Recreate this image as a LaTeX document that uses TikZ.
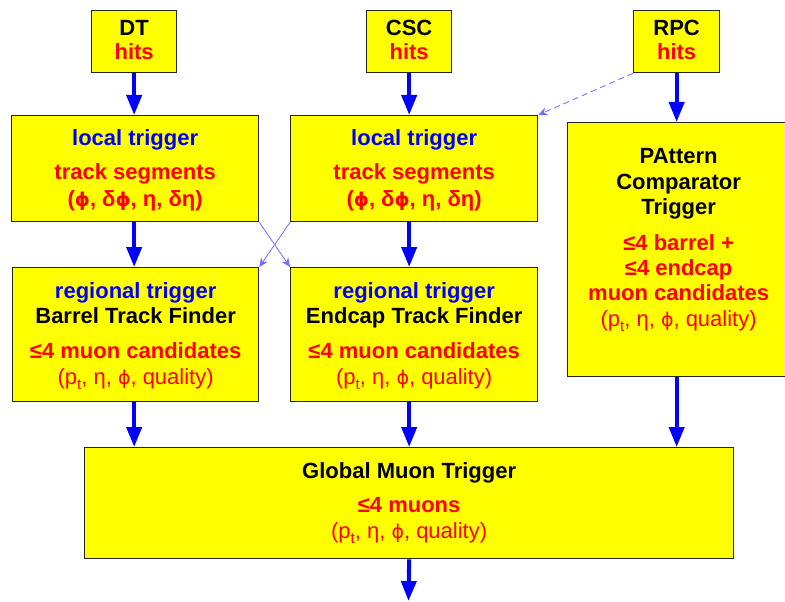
\documentclass[tikz,border=0pt]{standalone}
\usepackage{fontspec}
\setmainfont{Liberation Sans}
\newfontfamily\phifont{DejaVu Sans}
\usetikzlibrary{arrows.meta}
\definecolor{boxyellow}{RGB}{255,255,0}
\definecolor{tblue}{RGB}{0,0,255}
\definecolor{tred}{RGB}{255,0,0}
\definecolor{lblue}{RGB}{110,110,255}
\newcommand{\ptsub}{p\raisebox{-0.25em}{\fontsize{15}{15}\selectfont t}}
\newcommand{\myphi}{{\phifont\fontsize{19}{19}\selectfont ϕ}}
\begin{document}
\begin{tikzpicture}[x=1pt,y=-1pt,
  box/.style={draw=black!85, line width=1.3pt, fill=boxyellow, inner sep=0pt, anchor=north west},
  txt/.style={font=\fontsize{22}{22}\selectfont\bfseries, text height=16pt, text depth=0pt, inner sep=0pt},
  txtr/.style={font=\fontsize{22}{22}\selectfont, text height=16pt, text depth=0pt, inner sep=0pt},
  big/.style={draw=tblue, line width=4pt, -{Triangle[length=20pt,width=15pt]}},
  thinarr/.style={draw=lblue, line width=0.8pt, -{Stealth[length=9pt,width=8pt]}}]
\fill[white] (0,0) rectangle (785,602);
\useasboundingbox (0,0) rectangle (785,602);
% boxes
\node[box, minimum width=85, minimum height=62] (dt) at (91,10) {};
\node[box, minimum width=85, minimum height=62] (csc) at (366,10) {};
\node[box, minimum width=86, minimum height=62] (rpc) at (633,10) {};
\node[box, minimum width=247, minimum height=106] (lt1) at (11,115) {};
\node[box, minimum width=247, minimum height=106] (lt2) at (290,115) {};
\node[box, minimum width=222, minimum height=254] (pact) at (567,122) {};
\node[box, minimum width=246, minimum height=134] (rg1) at (12,267) {};
\node[box, minimum width=247, minimum height=134] (rg2) at (290,267) {};
\node[box, minimum width=649, minimum height=111] (glob) at (84,447) {};
% texts
\node[txt] (dta) at (dt.center |- 0,28) {DT};
\node[txt, text=tred] (dtb) at (dt.center |- 0,52) {hits};
\node[txt] (csca) at (csc.center |- 0,28) {CSC};
\node[txt, text=tred] (cscb) at (csc.center |- 0,52) {hits};
\node[txt] (rpca) at (rpc.center |- 0,28) {RPC};
\node[txt, text=tred] (rpcb) at (rpc.center |- 0,52) {hits};
\node[txt, text=tblue] (lt1a) at (lt1.center |- 0,137) {local trigger};
\node[txt, text=tred] (lt1b) at (lt1.center |- 0,171) {track segments};
\node[txt, text=tred] (lt1c) at (lt1.center |- 0,198) {(\myphi, δ\myphi, η, δη)};
\node[txt, text=tblue] (lt2a) at (lt2.center |- 0,137) {local trigger};
\node[txt, text=tred] (lt2b) at (lt2.center |- 0,171) {track segments};
\node[txt, text=tred] (lt2c) at (lt2.center |- 0,198) {(\myphi, δ\myphi, η, δη)};
\node[txt] (pa) at (pact.center |- 0,155) {PAttern};
\node[txt] (pb) at (pact.center |- 0,181) {Comparator};
\node[txt] (pc) at (pact.center |- 0,206) {Trigger};
\node[txt, text=tred] (pd) at (pact.center |- 0,242) {≤4 barrel +};
\node[txt, text=tred] (pe) at (pact.center |- 0,267) {≤4 endcap};
\node[txt, text=tred] (pf) at (pact.center |- 0,292) {muon candidates};
\node[txtr, text=tred] (pg) at (pact.center |- 0,318) {(\ptsub, η, \myphi, quality)};
\node[txt, text=tblue] (rg1a) at (rg1.center |- 0,290) {regional trigger};
\node[txt] (rg1b) at (rg1.center |- 0,315) {Barrel Track Finder};
\node[txt, text=tred] (rg1c) at (rg1.center |- 0,350) {≤4 muon candidates};
\node[txtr, text=tred] (rg1d) at (rg1.center |- 0,376) {(\ptsub, η, \myphi, quality)};
\node[txt, text=tblue] (rg2a) at (rg2.center |- 0,290) {regional trigger};
\node[txt] (rg2b) at (rg2.center |- 0,315) {Endcap Track Finder};
\node[txt, text=tred] (rg2c) at (rg2.center |- 0,350) {≤4 muon candidates};
\node[txtr, text=tred] (rg2d) at (rg2.center |- 0,376) {(\ptsub, η, \myphi, quality)};
\node[txt] (ga) at (glob.center |- 0,470) {Global Muon Trigger};
\node[txt, text=tred] (gb) at (glob.center |- 0,504) {≤4 muons};
\node[txtr, text=tred] (gc) at (glob.center |- 0,530) {(\ptsub, η, \myphi, quality)};
% arrows
\draw[big] (dt.south) -- (dt.south |- lt1.north);
\draw[big] (csc.south) -- (csc.south |- lt2.north);
\draw[big] (rpc.south) -- (rpc.south |- pact.north);
\draw[big] (dt.south |- lt1.south) -- (dt.south |- rg1.north);
\draw[big] (csc.south |- lt2.south) -- (csc.south |- rg2.north);
\draw[big] (dt.south |- rg1.south) -- (dt.south |- glob.north);
\draw[big] (csc.south |- rg2.south) -- (csc.south |- glob.north);
\draw[big] (rpc.south |- pact.south) -- (rpc.south |- glob.north);
\coordinate (out) at (408.5,601);
\draw[big] (glob.south) -- (out);
\draw[thinarr] (lt1.south east) -- (rg2.north west);
\draw[thinarr] (lt2.south west) -- (rg1.north east);
\draw[thinarr, dash pattern=on 6pt off 4pt] (rpc.south west) -- (lt2.north east);
\end{tikzpicture}
\end{document}
